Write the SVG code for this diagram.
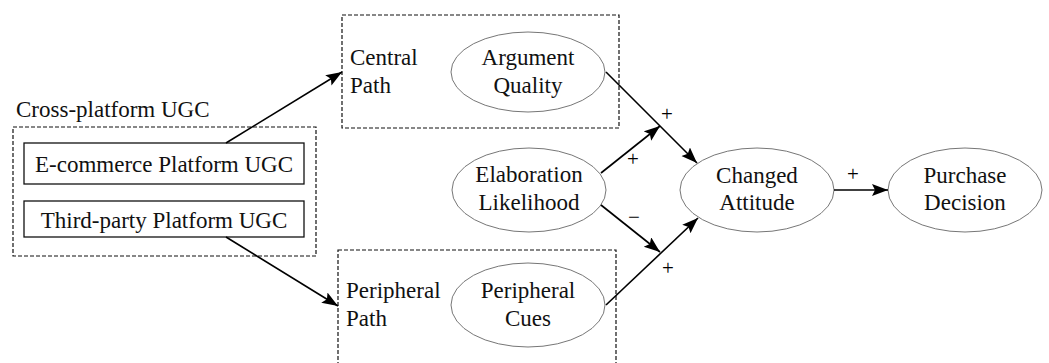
<svg xmlns="http://www.w3.org/2000/svg" width="1049" height="363" viewBox="0 0 1049 363">
<defs>
<style>
text{font-family:'Liberation Serif','Times New Roman',serif;font-size:23px;fill:#111}
.c{text-anchor:middle}
.s{font-size:21px;text-anchor:middle;fill:#000}
.dash{fill:none;stroke:#111;stroke-width:1.2;stroke-dasharray:4 2}
.box{fill:#fff;stroke:#111;stroke-width:1.3}
.ell{fill:#fff;stroke:#666;stroke-width:0.9}
.arr{fill:none;stroke:#000;stroke-width:1.6;marker-end:url(#ah)}
</style>
<marker id="ah" markerUnits="userSpaceOnUse" markerWidth="17" markerHeight="13" refX="16" refY="6" orient="auto">
<path d="M0,0 L16,6 L0,12 L3,6 z" fill="#000"/>
</marker>
</defs>
<rect width="1049" height="363" fill="#fff"/>
<g font-family="Liberation Serif, Times New Roman, serif">
<g id="cross-platform">
<rect class="dash" x="13" y="127" width="303" height="129"/>
<text x="16" y="117">Cross-platform UGC</text>
</g>
<g id="ecommerce">
<rect class="box" x="24" y="143" width="280" height="41"/>
<text class="c" x="164" y="172">E-commerce Platform UGC</text>
</g>
<g id="thirdparty">
<rect class="box" x="24" y="201" width="280" height="36"/>
<text class="c" x="164" y="228">Third-party Platform UGC</text>
</g>

<g id="central-path">
<rect class="dash" x="342" y="15" width="277" height="113"/>
<text x="350" y="65">Central</text>
<text x="350" y="93">Path</text>
</g>
<g id="argument-quality">
<ellipse class="ell" cx="528" cy="72" rx="77" ry="40"/>
<text class="c" x="528" y="65">Argument</text>
<text class="c" x="528" y="93">Quality</text>
</g>

<g id="peripheral-path">
<rect class="dash" x="338" y="250" width="278" height="125"/>
<text x="346" y="298">Peripheral</text>
<text x="346" y="326">Path</text>
</g>
<g id="peripheral-cues">
<ellipse class="ell" cx="528" cy="305" rx="77" ry="42"/>
<text class="c" x="528" y="298">Peripheral</text>
<text class="c" x="528" y="326">Cues</text>
</g>

<g id="elaboration">
<ellipse class="ell" cx="529" cy="190" rx="77" ry="42"/>
<text class="c" x="529" y="182">Elaboration</text>
<text class="c" x="529" y="210">Likelihood</text>
</g>

<g id="changed-attitude">
<ellipse class="ell" cx="757" cy="190" rx="77" ry="42"/>
<text class="c" x="757" y="183">Changed</text>
<text class="c" x="757" y="210">Attitude</text>
</g>

<g id="purchase-decision">
<ellipse class="ell" cx="965" cy="190" rx="77" ry="42"/>
<text class="c" x="965" y="183">Purchase</text>
<text class="c" x="965" y="210">Decision</text>
</g>

<g id="connectors">
<line class="arr" x1="226" y1="143" x2="342" y2="72"/>
<line class="arr" x1="226" y1="237" x2="338" y2="306"/>
<line class="arr" x1="606" y1="72" x2="697" y2="163"/>
<line class="arr" x1="606" y1="305" x2="698" y2="218"/>
<line class="arr" x1="601" y1="173" x2="660" y2="126"/>
<line class="arr" x1="601" y1="205" x2="660" y2="252"/>
<line class="arr" x1="834" y1="190" x2="888" y2="190"/>
<text class="s" x="667" y="121">+</text>
<text class="s" x="633" y="166">+</text>
<text class="s" x="634" y="224">−</text>
<text class="s" x="668" y="275">+</text>
<text class="s" x="853" y="181">+</text>
</g>
</g>
</svg>
